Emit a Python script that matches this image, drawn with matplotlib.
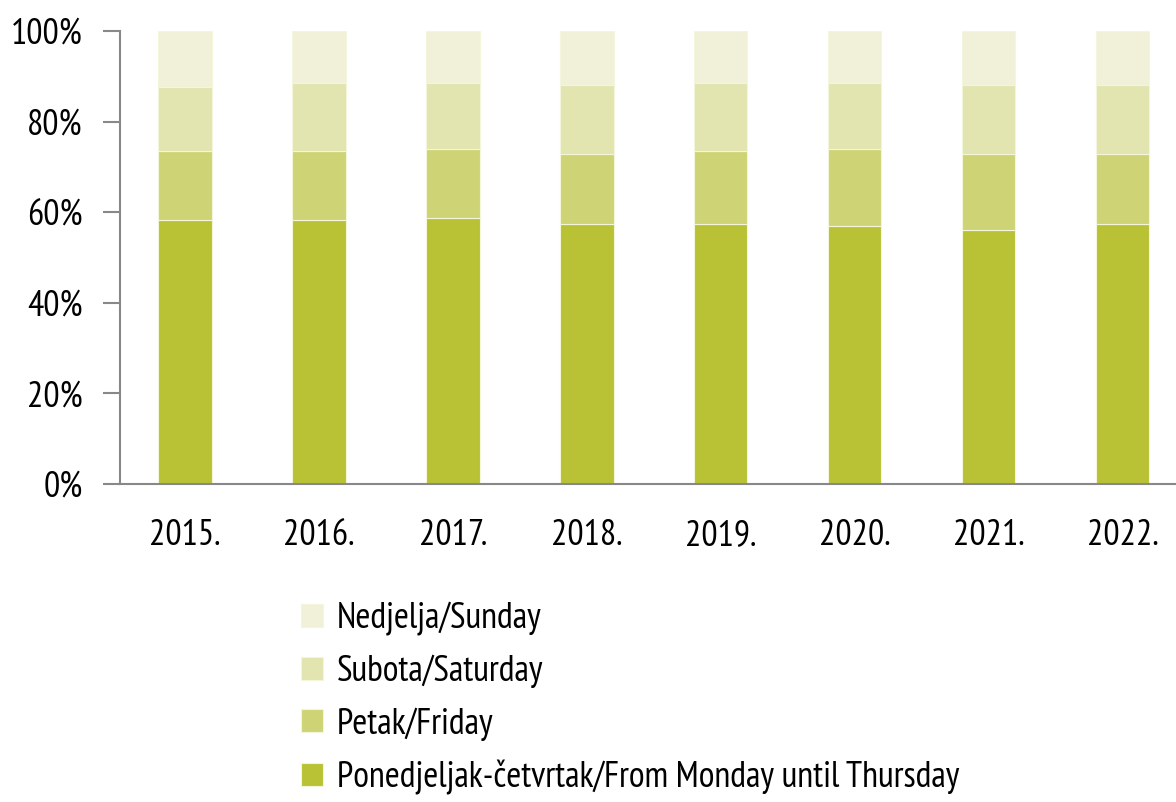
import matplotlib
matplotlib.use("Agg")
import matplotlib.pyplot as plt
import numpy as np

plt.rcParams['font.family'] = ['PT Sans Narrow', 'DejaVu Sans']

years = ['2015.', '2016.', '2017.', '2018.', '2019.', '2020.', '2021.', '2022.']
mon_thu = [58.2, 58.2, 58.7, 57.3, 57.3, 56.9, 56.0, 57.3]
friday = [15.2, 15.2, 15.2, 15.6, 16.1, 17.0, 16.9, 15.6]
saturday = [14.2, 15.1, 14.6, 15.2, 15.1, 14.6, 15.2, 15.2]
sunday = [12.4, 11.5, 11.5, 11.9, 11.5, 11.5, 11.9, 11.9]

labels = ['Ponedjeljak-četvrtak/From Monday until Thursday', 'Petak/Friday',
          'Subota/Saturday', 'Nedjelja/Sunday']
colors = ['#b8c234', '#ced475', '#e2e5b0', '#f1f1d9']

fig = plt.figure(figsize=(11.76, 8.02), dpi=100)
ax = fig.add_axes([120/1176, 1 - 484/802, 1 - 120/1176, (484 - 31)/802])

x = np.arange(len(years))
bottom = np.zeros(len(years))
handles = []
for vals, lab, col in zip([mon_thu, friday, saturday, sunday], labels, colors):
    b = ax.bar(x, vals, 0.4, bottom=bottom, color=col, edgecolor='#f4f6dc',
               linewidth=0.8, label=lab)
    handles.append(b)
    bottom += np.array(vals)

ax.set_ylim(0, 100)
ax.set_xlim(-0.485, 7.40)
ax.set_yticks([0, 20, 40, 60, 80, 100])
ax.set_yticklabels([f'{v}%' for v in range(0, 101, 20)])
ax.set_xticks(x)
ax.set_xticklabels(years)
ax.tick_params(axis='y', length=12, width=1.5, color='#888888', labelsize=26, pad=15)
ax.tick_params(axis='x', length=0, labelsize=26, pad=25)
for s in ['top', 'right']:
    ax.spines[s].set_visible(False)
for s in ['left', 'bottom']:
    ax.spines[s].set_color('#888888')
    ax.spines[s].set_linewidth(1.5)

fig.legend(handles[::-1], labels[::-1], loc='upper left',
           bbox_to_anchor=(301/1176, 1 - 602/802), frameon=False, fontsize=26,
           handlelength=0.6, handleheight=0.6, handletextpad=0.4,
           labelspacing=0.52, borderpad=0, borderaxespad=0)

fig.savefig('out.png', dpi=100)
